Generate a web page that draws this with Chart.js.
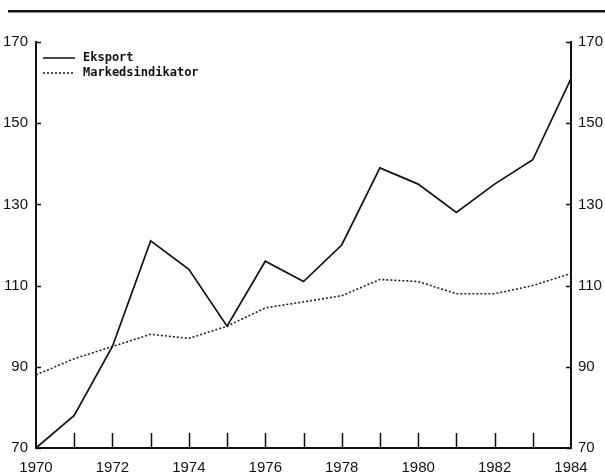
<!DOCTYPE html>
<html>
<head>
<meta charset="utf-8">
<script src="https://cdn.jsdelivr.net/npm/chart.js@4"></script>
<style>
  html, body { margin: 0; padding: 0; background: #fff; }
  #wrap { width: 605px; height: 472px; }
</style>
</head>
<body>
<div id="wrap"><canvas id="myChart" width="605" height="472"></canvas></div>
<script>
let years = ['1970', '1971', '1972', '1973', '1974', '1975', '1976', '1977',
             '1978', '1979', '1980', '1981', '1982', '1983', '1984'];
let eksport = [70, 78, 95, 121, 114, 100, 116, 111, 120, 139, 135, 128, 135, 141, 161];
let markedsindikator = [88, 92, 95, 98, 97, 100, 104.5, 106, 107.5, 111.5, 111, 108, 108, 110, 113];
let yTicks = [70, 90, 110, 130, 150, 170];

let labelFont = { family: "'Liberation Sans', sans-serif", size: 15 };

// ticks pointing into the plot, a rule across the top and the legend
let decor = {
    id: 'decor',
    beforeDraw(chart) {
        let ctx = chart.ctx;
        ctx.save();
        ctx.fillStyle = '#111';
        ctx.fillRect(8, 10, 597, 2.5);
        ctx.restore();
    },
    afterDraw(chart) {
        let ctx = chart.ctx;
        let area = chart.chartArea;
        let x = chart.scales.x;
        ctx.save();
        ctx.strokeStyle = '#111';
        ctx.lineWidth = 1.5;
        ctx.beginPath();
        for (let i = 1; i < years.length - 1; i++) {
            let px = Math.round(x.getPixelForValue(i)) + 0.5;
            ctx.moveTo(px, area.bottom);
            ctx.lineTo(px, area.bottom - 15);
        }
        yTicks.forEach(v => {
            let py = Math.round(chart.scales.y.getPixelForValue(v)) + 0.5;
            ctx.moveTo(area.left, py);
            ctx.lineTo(area.left + 5, py);
            ctx.moveTo(area.right, py);
            ctx.lineTo(area.right - 5, py);
        });
        ctx.stroke();

        // legend
        ctx.font = "bold 12px 'DejaVu Sans Mono', monospace";
        ctx.fillStyle = '#111';
        ctx.textBaseline = 'middle';
        chart.data.datasets.forEach((ds, i) => {
            let ly = 58 + i * 15;
            ctx.beginPath();
            ctx.setLineDash(ds.borderDash || []);
            ctx.lineWidth = 1.5;
            ctx.moveTo(area.left + 7, ly);
            ctx.lineTo(area.left + 39, ly);
            ctx.stroke();
            ctx.setLineDash([]);
            ctx.fillText(ds.label, area.left + 47, ly);
        });
        ctx.restore();
    }
};

let linechart = document.getElementById('myChart').getContext('2d');

let chart = new Chart(linechart, {
    type: 'line',
    data: {
        labels: years,
        datasets: [{
            label: 'Eksport',
            data: eksport,
            borderColor: '#111',
            borderWidth: 1.7,
            pointRadius: 0,
            tension: 0,
            fill: false
        }, {
            label: 'Markedsindikator',
            data: markedsindikator,
            borderColor: '#222',
            borderWidth: 1.6,
            borderDash: [2, 2],
            pointRadius: 0,
            tension: 0,
            fill: false
        }]
    },
    options: {
        responsive: false,
        animation: false,
        layout: { padding: { top: 42, left: 0, right: 0, bottom: 0 } },
        plugins: {
            legend: { display: false },
            tooltip: { enabled: false }
        },
        scales: {
            x: {
                offset: false,
                grid: { display: false },
                border: { display: true, color: '#111', width: 2 },
                ticks: {
                    color: '#111',
                    font: labelFont,
                    padding: 3,
                    maxRotation: 0,
                    autoSkip: false,
                    callback: (v, i) => (i % 2 === 0 ? years[i] : '')
                },
                afterFit: s => { s.height = 24; }
            },
            y: {
                position: 'left',
                min: 70, max: 170,
                grid: { display: false, drawTicks: false },
                border: { display: true, color: '#111', width: 2 },
                ticks: { stepSize: 20, color: '#111', font: labelFont, padding: 8 },
                afterFit: s => { s.width = 36; }
            },
            y2: {
                position: 'right',
                min: 70, max: 170,
                grid: { display: false, drawTicks: false },
                border: { display: true, color: '#111', width: 2 },
                ticks: { stepSize: 20, color: '#111', font: labelFont, padding: 7 },
                afterFit: s => { s.width = 34; }
            }
        }
    },
    plugins: [decor]
});
</script>
</body>
</html>
